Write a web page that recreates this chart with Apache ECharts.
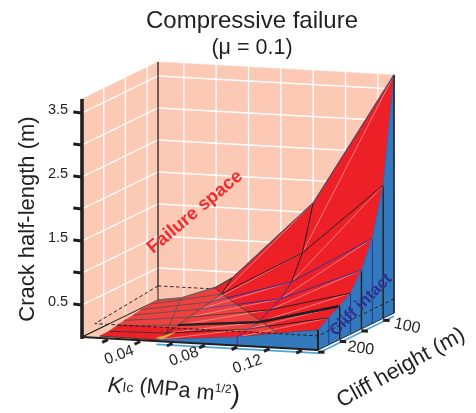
<!DOCTYPE html>
<html><head><meta charset="utf-8">
<style>html,body{margin:0;padding:0;background:#fff}#c{width:476px;height:413px}</style>
<script src="https://cdn.jsdelivr.net/npm/echarts@6/dist/echarts.min.js"></script>
</head><body><div id="c"></div>
<script>
// ---- data ----
const cliffHeights = [75, 100, 125, 150, 175, 200, 225, 250];
const kLeftEdge   = [0.004, 0.006, 0.007, 0.009, 0.010, 0.012, 0.014, 0.015];
const crackLeft   = [0.00, 0.02, 0.02, 0.02, 0.02, 0.02, 0.02, 0.03];
const kColumns    = [0.05, 0.10, 0.15];
const crackK05    = [0.41, 0.24, 0.20, 0.17, 0.125, 0.086, 0.044, 0.02];
const crackK10    = [1.65, 0.95, 0.58, 0.40, 0.31, 0.20, 0.175, 0.13];
const crackK15    = [3.72, 2.08, 1.33, 0.92, 0.64, 0.52, 0.42, 0.31];
const backEdgeK     = [0.018, 0.04];
const backEdgeCrack = [0.05, 0.25];
const planeCrack = 0.22;                       // the dashed plane
const planeKFront = 0.012;
const planeContour = [[0.04, 75], [0.0487, 94], [0.124, 246.5]];
const innerCurve = [[0.018, 75, 0.05], [0.044, 200, 0.04], [0.05, 225, 0.044]];
const orangePatch = [[0.05, 250, 0.05], [0.0535, 250, 0.035], [0.055, 225, 0.06]];
const kTicks = [0.02, 0.04, 0.06, 0.08, 0.10, 0.12, 0.14];
const kTickLabels = ['0.04', '0.08', '0.12'];
const hTicks = [100, 150, 200, 250];
const hTickLabels = ['100', '200'];
const crackTicks = [0.5, 1, 1.5, 2, 2.5, 3, 3.5];
const crackTickLabels = ['0.5', '1.5', '2.5', '3.5'];
const kRange = [0.004, 0.15], hRange = [75, 250], crackTop = 3.72;

// ---- oblique 3-D projection on to the hidden plane axes ----
function project(p) {
  const u = (p[0] - kRange[0]) / (kRange[1] - kRange[0]);
  const v = (p[1] - hRange[0]) / (hRange[1] - hRange[0]);
  return [158 + 236 * u - 76 * v, 300 + 13 * u + 37 * v - 64 * p[2]];
}
const KMIN = kRange[0], KMAX = kRange[1], HMIN = hRange[0], HMAX = hRange[1];
const FONT = '"Liberation Sans", Arial, sans-serif';
const RED = '#ee2027', BLUE = '#3379bd', NAVY = '#2e3192', INK = '#231f20', WALL = '#fbc9b4';

const rows = cliffHeights.map((h, i) => ({
  h,
  pts: [[kLeftEdge[i], h, crackLeft[i]], [kColumns[0], h, crackK05[i]],
        [kColumns[1], h, crackK10[i]], [kColumns[2], h, crackK15[i]]]
}));
rows[0].pts.splice(1, 0, ...backEdgeK.map((k, i) => [k, HMIN, backEdgeCrack[i]]));
const col = j => rows.map(r => r.pts[r.pts.length - 3 + j]);   // 0:K.05 1:K.10 2:K.15

function poly(pts, fill, stroke, lw) { return {t: 'poly', pts, fill, stroke: stroke || fill, lw: lw === undefined ? 0.5 : lw}; }
function line(pts, stroke, lw, dash) { return {t: 'line', pts, stroke, lw, dash}; }
function text(at, str, size, rot, opt) { return Object.assign({t: 'text', at, str, size, rot}, opt || {}); }

// walls and floor
const walls = [
  poly([[KMIN, HMIN, 0], [KMAX, HMIN, 0], [KMAX, HMIN, crackTop], [KMIN, HMIN, crackTop]], WALL),
  poly([[KMIN, HMIN, 0], [KMIN, HMAX, 0], [KMIN, HMAX, crackTop], [KMIN, HMIN, crackTop]], WALL),
  poly([[KMIN, HMIN, 0], [KMAX, HMIN, 0], [KMAX, HMAX, 0], [KMIN, HMAX, 0]], WALL)
];
const grid = [];
crackTicks.forEach(a => {
  grid.push(line([[KMIN, HMAX, a], [KMIN, HMIN, a], [KMAX, HMIN, a]], '#fff', 1.3));
});
kTicks.forEach(k => grid.push(line([[k, HMIN, 0], [k, HMIN, crackTop]], '#fff', 1.3)));
hTicks.filter(h => h < HMAX).forEach(h => grid.push(line([[KMIN, h, 0], [KMIN, h, crackTop]], '#fff', 1.3)));
grid.push(line([[KMIN, HMIN, 0], [KMIN, HMIN, crackTop]], '#111', 1.2));
grid.push(line([[KMIN, HMAX, 0], [KMIN, HMIN, 0], [KMAX, HMIN, 0]], '#111', 1.2));

// back half of the dashed plane
const planeBack = [line([[KMIN, HMIN, planeCrack], planeContour[0].concat(planeCrack)], '#222', 1, [3.5, 2.5])];

// surface
const cells = [];
for (let i = 0; i < rows.length - 1; i++) {
  const a = rows[i].pts, b = rows[i + 1].pts;
  cells.push(poly(a.concat(b.slice().reverse()), RED));
}
const diagonals = [];
for (let i = 0; i < rows.length - 1; i++) {
  const a = rows[i].pts, b = rows[i + 1].pts;
  const na = a.length, nb = b.length;
  diagonals.push(line([a[na - 1], b[nb - 2]], '#f7a3a0', 0.7));
  diagonals.push(line([a[na - 2], b[nb - 3]], '#f7a3a0', 0.7));
}
const rowStyle = [['#4a4a66', 1.2], [INK, 1], [NAVY, 1], [NAVY, 1], [INK, 1], [INK, 2.2], [INK, 1], ['#3b3a55', 1.1]];
const meshLeft = rows.map((r, i) => {
  const idx = r.pts.length - 3;
  return line(r.pts.slice(0, idx + 1), i === 0 ? '#4a4a52' : '#333', i === 0 ? 1.4 : 0.9);
});
const meshRight = rows.map((r, i) => line(r.pts.slice(r.pts.length - 3), rowStyle[i][0], rowStyle[i][1]));
const meshCols = [
  line(col(0).slice(0, 2), INK, 1),
  line(col(0).slice(1), '#333', 1),
  line(col(1).slice(0, 3), INK, 1),
  line(col(1).slice(2), NAVY, 0.9),
  line(innerCurve, '#333', 0.9)
];

// translucent plane where the surface lies beneath it
const planeFill = [
  poly([[KMIN, HMIN, planeCrack]].concat(planeContour.map(p => p.concat(planeCrack)))
    .concat([[planeKFront, HMAX, planeCrack]]), 'rgba(246,178,155,0.22)', 'rgba(0,0,0,0)', 0),
  line(planeContour.map(p => p.concat(planeCrack)), '#444', 1)
];

// blue walls
const rightPts = rows.map(r => r.pts[r.pts.length - 1]);
const frontPts = rows[rows.length - 1].pts.slice(1);
const blue = [
  poly(rightPts.concat([[KMAX, HMAX, 0], [KMAX, HMIN, 0]]), BLUE),
  poly(frontPts.concat([[KMAX, HMAX, 0], [kColumns[0], HMAX, 0]]), BLUE),
  poly(orangePatch, '#f7a63c')
];
const wallLineColor = [INK, INK, NAVY, INK, NAVY, INK, NAVY, INK];
rightPts.forEach((p, i) => blue.push(line([p, [KMAX, p[1], 0]], wallLineColor[i], i % 2 ? 1.4 : 1)));
blue.push(line([[kColumns[1], HMAX, crackK10[7]], [kColumns[1], HMAX, 0]], NAVY, 1));
blue.push(line(rightPts, '#4a5aa8', 1));
blue.push(line([rightPts[7], [KMAX, HMAX, 0]], INK, 2));
blue.push(line([[KMAX, HMIN, 0], [KMAX, HMIN, crackTop]], '#2a2a3a', 1.4));

// frame on top
const frame = [
  line([[kColumns[0], HMAX, -0.05], [KMAX, HMAX, -0.05]], '#4fa6da', 1.8),
  line([[KMAX, HMAX, -0.05], [KMAX, HMIN, -0.05]], '#4fa6da', 1.8),
  line([[KMIN, HMAX, 0], [KMAX, HMAX, 0]], INK, 1.8),
  line([[KMAX, HMAX, 0], [KMAX, HMIN, 0]], INK, 0.8),
  line([[KMIN, HMAX, -0.03], [KMIN, HMAX, crackTop]], INK, 3.6),
  line([[KMIN, HMIN, planeCrack], [planeKFront, HMAX, planeCrack], [KMAX, HMAX, planeCrack], [KMAX, HMIN, planeCrack]], '#222', 1, [3.5, 2.5])
];
crackTicks.forEach(a => frame.push(line([[KMIN, HMAX, a], [KMIN - 0.0055, HMAX - 0.4, a + 0.005]], INK, 3)));
kTicks.forEach(k => frame.push(line([[k, HMAX, -0.02], [k, HMAX + 13, -0.02]], INK, 3)));
hTicks.forEach(h => frame.push(line([[KMAX, h, -0.03], [KMAX + 0.004, h, -0.03]], INK, 3)));

// text
const texts = [];
crackTickLabels.forEach(s => {
  const p = [KMIN, HMAX, +s];
  texts.push(text(p, s, 14.5, 0, {dx: -24, dy: -3}));
});
kTickLabels.forEach(s => {
  const p = [+s, HMAX, 0];
  const extra = {'0.04': [-21, 15], '0.08': [-21, 13], '0.12': [-22, 17]}[s];
  texts.push(text(p, s, 15.5, 20, {dx: extra[0], dy: extra[1]}));
});
hTickLabels.forEach(s => {
  const p = [KMAX, +s, 0];
  const extra = s === '100' ? [24, 8] : [21, 9];
  texts.push(text(p, s, 16, s === '100' ? -12 : -8, {dx: extra[0], dy: extra[1]}));
});
const annotations = [
  {pos: [28, 219], str: 'Crack half-length (m)', size: 22, rot: 90},
  {pos: [401, 368], str: 'Cliff height (m)', size: 22, rot: 29},
  {pos: [195, 212], str: 'Failure space', size: 18.5, rot: 40, color: '#ee2e33', weight: 'bold'},
  {pos: [361, 305], str: 'Cliff intact', size: 16.5, rot: 45, color: NAVY, weight: 'bold'}
];

function renderer(items) {
  return function (params, api) {
    const it = items[api.value(0)];
    if (it.t === 'poly') {
      return {type: 'polygon', silent: true,
        shape: {points: it.pts.map(p => api.coord(project(p)))},
        style: {fill: it.fill, stroke: it.stroke, lineWidth: it.lw}};
    }
    if (it.t === 'line') {
      return {type: 'polyline', silent: true,
        shape: {points: it.pts.map(p => api.coord(project(p)))},
        style: {fill: null, stroke: it.stroke, lineWidth: it.lw, lineDash: it.dash || null, lineCap: 'butt'}};
    }
    const base = it.at ? project(it.at) : it.pos;
    const c = api.coord([base[0] + (it.dx || 0), base[1] + (it.dy || 0)]);
    return {type: 'text', silent: true, x: c[0], y: c[1], rotation: (it.rot || 0) * Math.PI / 180,
      style: {text: it.str, fill: it.color || INK, align: 'center', verticalAlign: 'middle',
        font: (it.weight ? it.weight + ' ' : '') + it.size + 'px ' + FONT, rich: it.rich}};
  };
}
function layer(name, items) {
  return {type: 'custom', name, coordinateSystem: 'cartesian2d', clip: false, silent: true,
    animation: false, renderItem: renderer(items), data: items.map((_, i) => [i, 0])};
}
const kAxisName = {t: 'text', pos: [174, 390], rot: -6, size: 21.5,
  str: '{k|K}{ic|Ic} (MPa m{sup|1/2}{paren|)}',
  rich: {
    k: {font: 'italic 22px ' + FONT, fill: INK, verticalAlign: 'bottom'},
    ic: {font: '14px ' + FONT, fill: INK, padding: [6, 0, 0, 0]},
    sup: {font: '12px ' + FONT, fill: INK, padding: [0, 0, 12, 0]},
    paren: {font: '27px ' + FONT, fill: INK}
  }};

const chart = echarts.init(document.getElementById('c'), null, {renderer: 'canvas'});
chart.setOption({
  animation: false,
  backgroundColor: '#fff',
  title: {text: '{a|Compressive failure}\n{b|(μ = 0.1)}', left: 247, top: 3, textAlign: 'center',
    textStyle: {fontFamily: FONT, fontWeight: 'normal', color: INK,
      rich: {a: {fontFamily: FONT, fontSize: 24, color: INK, lineHeight: 27},
             b: {fontFamily: FONT, fontSize: 21.5, color: INK, lineHeight: 26}}}},
  grid: {left: 0, right: 0, top: 0, bottom: 0},
  xAxis: {type: 'value', min: 0, max: 476, show: false},
  yAxis: {type: 'value', min: 0, max: 413, inverse: true, show: false},
  series: [
    layer('walls', walls), layer('wall grid', grid), layer('plane back', planeBack),
    layer('surface', cells), layer('diagonals', diagonals), layer('rows left', meshLeft),
    layer('columns', meshCols), layer('rows right', meshRight), layer('plane', planeFill),
    layer('thick row', [line(rows[5].pts.slice(rows[5].pts.length - 3), INK, 2.2)]),
    layer('cliff intact', blue), layer('frame', frame),
    layer('labels', texts.concat(annotations.map(a => ({t: 'text', pos: a.pos, str: a.str, size: a.size, rot: a.rot, color: a.color, weight: a.weight}))).concat([kAxisName]))
  ]
});
</script></body></html>
